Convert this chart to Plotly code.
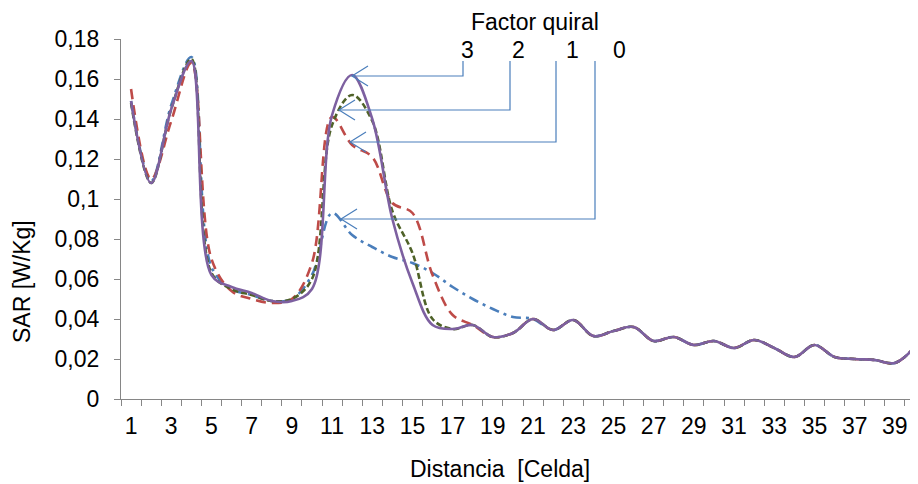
import plotly.graph_objects as go

# ---- data ----
celda = list(range(1, 41))

sar_f0 = [0.149, 0.109, 0.147, 0.171, 0.066, 0.055, 0.052, 0.049, 0.050, 0.062,
          0.093, 0.082, 0.076, 0.071, 0.068, 0.063, 0.056, 0.050, 0.045, 0.041,
          0.040, 0.0345, 0.0395, 0.0315, 0.034, 0.036, 0.029, 0.031, 0.027, 0.029,
          0.0255, 0.0295, 0.0255, 0.021, 0.027, 0.021, 0.020, 0.0195, 0.018, 0.026]

sar_f1 = [0.155, 0.110, 0.139, 0.168, 0.070, 0.054, 0.050, 0.048, 0.050, 0.068,
          0.141, 0.127, 0.121, 0.098, 0.093, 0.062, 0.042, 0.037, 0.031, 0.033,
          0.040, 0.0345, 0.0395, 0.0315, 0.034, 0.036, 0.029, 0.031, 0.027, 0.029,
          0.0255, 0.0295, 0.0255, 0.021, 0.027, 0.021, 0.020, 0.0195, 0.018, 0.026]

sar_f2 = [0.148, 0.108, 0.145, 0.170, 0.063, 0.055, 0.052, 0.049, 0.050, 0.060,
          0.137, 0.152, 0.139, 0.094, 0.073, 0.040, 0.035, 0.037, 0.031, 0.033,
          0.040, 0.0345, 0.0395, 0.0315, 0.034, 0.036, 0.029, 0.031, 0.027, 0.029,
          0.0255, 0.0295, 0.0255, 0.021, 0.027, 0.021, 0.020, 0.0195, 0.018, 0.026]

sar_f3 = [0.149, 0.108, 0.145, 0.169, 0.062, 0.056, 0.053, 0.049, 0.049, 0.055,
          0.142, 0.162, 0.140, 0.090, 0.058, 0.037, 0.035, 0.037, 0.031, 0.033,
          0.040, 0.0345, 0.0395, 0.0315, 0.034, 0.036, 0.029, 0.031, 0.027, 0.029,
          0.0255, 0.0295, 0.0255, 0.021, 0.027, 0.021, 0.020, 0.0195, 0.018, 0.026]

factor_labels = ["3", "2", "1", "0"]

y_tickvals = [0, 0.02, 0.04, 0.06, 0.08, 0.10, 0.12, 0.14, 0.16, 0.18]
y_ticktext = ["0", "0,02", "0,04", "0,06", "0,08", "0,1", "0,12", "0,14", "0,16", "0,18"]
x_tickvals = list(range(1, 40, 2))
x_ticktext = [str(v) for v in x_tickvals]

# ---- figure ----
FONT = "Liberation Sans, Arial, sans-serif"
FS = 23
AXIS_GRAY = "#868686"
ARROW_BLUE = "#4a7ebb"

series = [
    ("0", sar_f0, "#4a7ebb", "10px,5px,3px,5px"),
    ("1", sar_f1, "#be4b48", "10px,6px"),
    ("2", sar_f2, "#4f6228", "6px,3px"),
    ("3", sar_f3, "#7d60a0", "solid"),
]

fig = go.Figure()
for name, vals, color, dash in series:
    fig.add_trace(go.Scatter(
        x=celda, y=vals, name=name, mode="lines",
        line=dict(color=color, width=2.6, dash=dash, shape="spline", smoothing=1.0),
        showlegend=False, hoverinfo="x+y+name",
    ))

# The page body has an 8px margin, so the figure is drawn 8px in from the
# window's top-left corner; geometry below is in window pixels.
OFF = 8
W, H = 918 - OFF, 484 - OFF
PL, PR, PT, PB = 121, 918, 39, 399          # plot area in window pixels
L, T = PL - OFF, PT - OFF
R = (OFF + W) - PR
B = (OFF + H) - PB
pw, ph = PR - PL, PB - PT


def px2paper_x(px):
    return (px - PL) / pw


def py2paper_y(py):
    return (PB - py) / ph


# elbow connectors from the factor labels to the curves (window pixels)
connectors = [  # label x, vertical line x, horizontal y, tip x
    (467, 463, 76, 352),
    (518, 510, 110, 339),
    (572, 556, 142, 350),
    (619, 595, 219, 341),
]

shapes = []
annotations = []
for lab, (lx, vx, hy, tx) in zip(factor_labels, connectors):
    p = lambda x, y: f"{px2paper_x(x):.5f},{py2paper_y(y):.5f}"
    path = f"M {p(vx, 61)} L {p(vx, hy)} L {p(tx, hy)}"
    shapes.append(dict(type="path", xref="paper", yref="paper", path=path,
                       line=dict(color=ARROW_BLUE, width=1.2)))
    head = f"M {p(tx + 16, hy - 10)} L {p(tx, hy)} L {p(tx + 16, hy + 10)}"
    shapes.append(dict(type="path", xref="paper", yref="paper", path=head,
                       line=dict(color=ARROW_BLUE, width=1.2)))
    annotations.append(dict(text=lab, x=px2paper_x(lx), y=py2paper_y(50),
                            xref="paper", yref="paper", showarrow=False,
                            xanchor="center", yanchor="middle",
                            font=dict(family=FONT, size=FS, color="black")))

annotations.append(dict(text="Factor quiral", x=px2paper_x(535), y=py2paper_y(22),
                        xref="paper", yref="paper", showarrow=False,
                        xanchor="center", yanchor="middle",
                        font=dict(family=FONT, size=FS, color="black")))
annotations.append(dict(text="SAR [W/Kg]", x=px2paper_x(22), y=py2paper_y(282),
                        xref="paper", yref="paper", showarrow=False, textangle=-90,
                        xanchor="center", yanchor="middle",
                        font=dict(family=FONT, size=FS, color="black")))
annotations.append(dict(text="Distancia  [Celda]", x=px2paper_x(500), y=py2paper_y(469),
                        xref="paper", yref="paper", showarrow=False,
                        xanchor="center", yanchor="middle",
                        font=dict(family=FONT, size=FS, color="black")))

fig.update_layout(
    width=W, height=H,
    margin=dict(l=L, r=R, t=T, b=B, pad=0),
    plot_bgcolor="white", paper_bgcolor="white",
    font=dict(family=FONT, size=FS, color="black"),
    shapes=shapes, annotations=annotations,
    showlegend=False,
)

fig.update_xaxes(
    range=[0.5, 40.15], showgrid=False, zeroline=False,
    showline=True, linecolor=AXIS_GRAY, linewidth=1.3,
    tickmode="array", tickvals=x_tickvals, ticktext=x_ticktext,
    ticks="", ticklabelstandoff=6,
    tickfont=dict(family=FONT, size=FS, color="black"),
    minor=dict(ticks="outside", tickmode="array",
               tickvals=[c - 0.5 for c in celda] + [celda[-1] + 0.5],
               ticklen=6, tickcolor=AXIS_GRAY, tickwidth=1.3, showgrid=False),
)
fig.update_yaxes(
    range=[0, 0.18], showgrid=False, zeroline=False,
    showline=True, linecolor=AXIS_GRAY, linewidth=1.3,
    tickmode="array", tickvals=y_tickvals, ticktext=y_ticktext,
    ticks="outside", ticklen=6, tickcolor=AXIS_GRAY, tickwidth=1.3,
    ticklabelstandoff=10,
    tickfont=dict(family=FONT, size=FS, color="black"),
)

fig.write_html("out.html")
